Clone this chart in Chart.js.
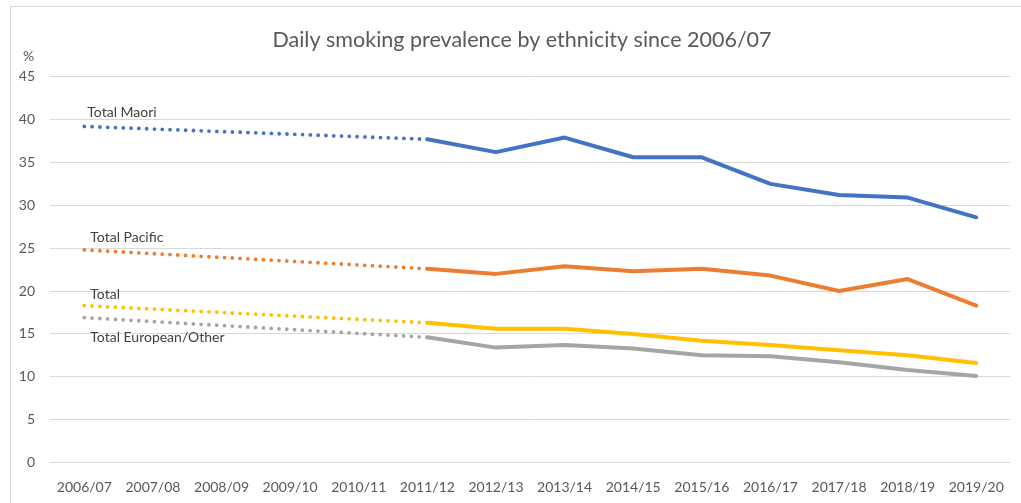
<!DOCTYPE html>
<html>
<head>
<meta charset="utf-8">
<script src="https://cdn.jsdelivr.net/npm/chart.js@4.4.1/dist/chart.umd.min.js"></script>
<style>
  html, body { margin: 0; padding: 0; background: #fff; }
  #wrap { position: relative; width: 1021px; height: 503px; }
  #frame { position: absolute; left: 10px; top: 6px; right: -2px; bottom: -2px; border: 1px solid #d9d9d9; box-sizing: border-box; pointer-events: none; }
</style>
</head>
<body>
<div id="wrap">
  <canvas id="c" width="1021" height="503"></canvas>
  <div id="frame"></div>
</div>
<script>
// Survey years
const years = ['2006/07','2007/08','2008/09','2009/10','2010/11','2011/12','2012/13','2013/14','2014/15','2015/16','2016/17','2017/18','2018/19','2019/20'];

// Daily smoking prevalence (%), null where no survey result
const maori    = [39.2, null, null, null, null, 37.7, 36.2, 37.9, 35.6, 35.6, 32.5, 31.2, 30.9, 28.6];
const pacific  = [24.8, null, null, null, null, 22.6, 22.0, 22.9, 22.3, 22.6, 21.8, 20.0, 21.4, 18.3];
const total    = [18.3, null, null, null, null, 16.3, 15.6, 15.6, 15.0, 14.2, 13.7, 13.1, 12.5, 11.6];
const european = [16.9, null, null, null, null, 14.6, 13.4, 13.7, 13.3, 12.5, 12.4, 11.7, 10.8, 10.1];

const seriesNames = ['Total Maori', 'Total Pacific', 'Total', 'Total European/Other'];
const yTicks = [0, 5, 10, 15, 20, 25, 30, 35, 40, 45];

const colors = ['#4472C4', '#ED7D31', '#FFC000', '#A5A5A5'];
const allSeries = [maori, pacific, total, european];
const FIRST_ANNUAL = 5; // index of 2011/12, start of the continuous survey

const datasets = [];
allSeries.forEach((vals, i) => {
  // gap years joined by a dotted line
  datasets.push({
    label: seriesNames[i] + ' (2006/07–2011/12)',
    data: vals.map((v, k) => (k <= FIRST_ANNUAL ? v : null)),
    borderColor: colors[i],
    borderWidth: 3.8,
    borderDash: [0, 7.8],
    borderCapStyle: 'round',
    spanGaps: true,
    pointRadius: 0,
    tension: 0
  });
  // annual results as a solid line
  datasets.push({
    label: seriesNames[i],
    data: vals.map((v, k) => (k >= FIRST_ANNUAL ? v : null)),
    borderColor: colors[i],
    borderWidth: 4,
    borderCapStyle: 'round',
    borderJoinStyle: 'round',
    spanGaps: false,
    pointRadius: 0,
    tension: 0
  });
});

const FONT = 'Lato, "Open Sans", sans-serif';

// Title, unit label and series name labels
const decorations = {
  id: 'decorations',
  afterDraw(chart) {
    const ctx = chart.ctx;
    const x = chart.scales.x, y = chart.scales.y;
    ctx.save();
    ctx.fillStyle = '#595959';
    ctx.font = '21.5px ' + FONT;
    ctx.textAlign = 'center';
    ctx.textBaseline = 'middle';
    ctx.fillText('Daily smoking prevalence by ethnicity since 2006/07', 522, 40);

    ctx.font = '14px ' + FONT;
    ctx.textAlign = 'left';
    ctx.fillText('%', 23, 56);

    ctx.fillStyle = '#404040';
    ctx.font = '14px ' + FONT;
    const x0 = x.getPixelForValue(0);
    const offsets = [-14, -12, -11, 20];
    allSeries.forEach((vals, i) => {
      ctx.fillText(seriesNames[i], x0 + (i === 0 ? 3 : 6), y.getPixelForValue(vals[0]) + offsets[i]);
    });
    ctx.restore();
  }
};

new Chart(document.getElementById('c'), {
  type: 'line',
  data: { labels: years, datasets },
  options: {
    responsive: false,
    animation: false,
    events: [],
    layout: { padding: { left: 0, right: 6, top: 76.7, bottom: 0 } },
    plugins: { legend: { display: false }, tooltip: { enabled: false }, title: { display: false } },
    scales: {
      x: {
        offset: true,
        grid: { display: false, drawTicks: false },
        border: { display: false },
        ticks: { color: '#595959', font: { family: FONT, size: 14 }, padding: 17, maxRotation: 0, autoSkip: false },
        afterFit(s) { s.height = 40.5; }
      },
      y: {
        min: 0, max: 45,
        afterBuildTicks(s) { s.ticks = yTicks.map(v => ({ value: v })); },
        grid: { color: '#d9d9d9', lineWidth: 1, drawTicks: false },
        border: { display: false },
        ticks: { color: '#595959', font: { family: FONT, size: 14 }, padding: 15 },
        afterFit(s) { s.width = 50; }
      }
    }
  },
  plugins: [decorations]
});
</script>
</body>
</html>
